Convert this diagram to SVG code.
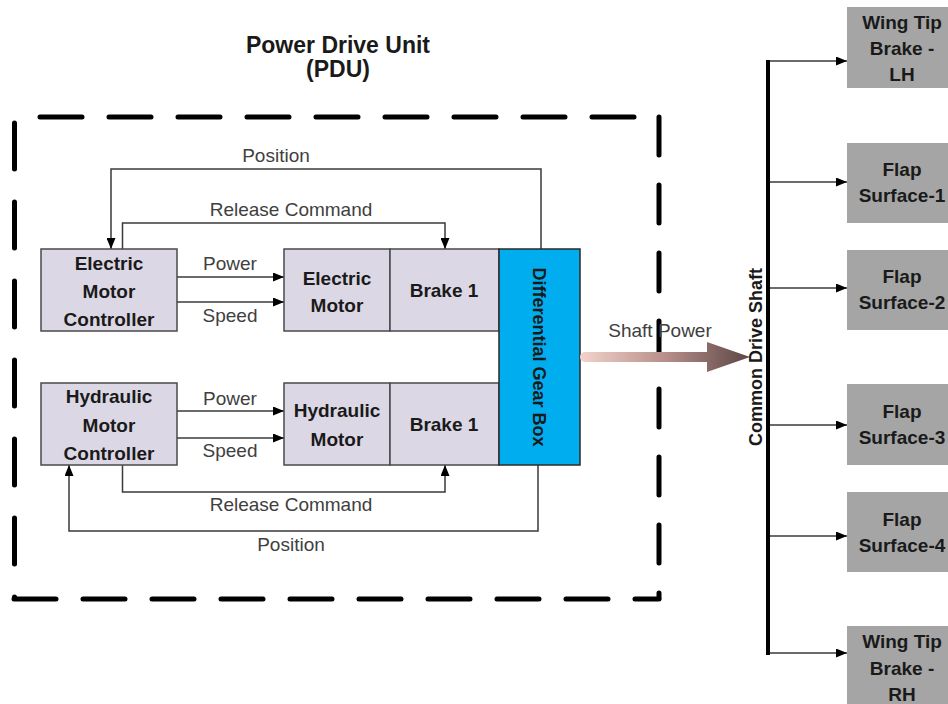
<svg xmlns="http://www.w3.org/2000/svg" width="948" height="704" viewBox="0 0 948 704">
<defs>
<style>
.t{font-family:"Liberation Sans",Arial,sans-serif;font-size:19px;fill:#404040;text-anchor:middle}
.b{font-family:"Liberation Sans",Arial,sans-serif;font-size:19px;font-weight:bold;fill:#1a1a1a;text-anchor:middle}
.box{fill:#dcd7e5;stroke:#4a4a4a;stroke-width:1.5}
.gray{fill:#a5a5a5;stroke:none}
.con{fill:none;stroke:#3a3a3a;stroke-width:1.5}
.dash{fill:none;stroke:#000;stroke-width:5;stroke-linecap:round}
</style>
<marker id="ah" viewBox="0 0 11 9" refX="11" refY="4.5" markerWidth="11" markerHeight="9" markerUnits="userSpaceOnUse" orient="auto">
<path d="M0,0 L11,4.5 L0,9 z" fill="#000"/>
</marker>
<linearGradient id="sg" gradientUnits="userSpaceOnUse" x1="580" y1="0" x2="750" y2="0">
<stop offset="0" stop-color="#f2d3cb"/>
<stop offset="0.5" stop-color="#b88f8a"/>
<stop offset="1" stop-color="#5c4646"/>
</linearGradient>
</defs>
<rect width="948" height="704" fill="#fff"/>

<g id="title">
<text class="b" x="338" y="53" style="font-size:23px">Power Drive Unit</text>
<text class="b" x="338" y="77" style="font-size:23px">(PDU)</text>
</g>

<g id="pdu-boundary">
<line class="dash" x1="40" y1="117" x2="659" y2="117" stroke-dasharray="42 27"/>
<line class="dash" x1="659" y1="117" x2="659" y2="598" stroke-dasharray="38 30"/>
<line class="dash" x1="14.5" y1="123" x2="14.5" y2="598" stroke-dasharray="46 33"/>
<line class="dash" x1="14" y1="599" x2="659" y2="599" stroke-dasharray="42 27"/>
</g>

<g id="connectors">
<path class="con" d="M541,249 V169 H111 V249" marker-end="url(#ah)"/>
<path class="con" d="M122.5,249 V223 H445 V249" marker-end="url(#ah)"/>
<path class="con" d="M177,277 H284" marker-end="url(#ah)"/>
<path class="con" d="M177,302 H284" marker-end="url(#ah)"/>
<path class="con" d="M177,411 H284" marker-end="url(#ah)"/>
<path class="con" d="M177,438 H284" marker-end="url(#ah)"/>
<path class="con" d="M122.5,465 V492 H445 V465" marker-end="url(#ah)"/>
<path class="con" d="M538,465 V531 H69 V465" marker-end="url(#ah)"/>
<path class="con" d="M768,61 H847" marker-end="url(#ah)"/>
<path class="con" d="M768,182 H847" marker-end="url(#ah)"/>
<path class="con" d="M768,288 H847" marker-end="url(#ah)"/>
<path class="con" d="M768,425 H847" marker-end="url(#ah)"/>
<path class="con" d="M768,536 H847" marker-end="url(#ah)"/>
<path class="con" d="M768,653 H847" marker-end="url(#ah)"/>
<text class="t" x="276" y="162">Position</text>
<text class="t" x="291" y="216">Release Command</text>
<text class="t" x="230" y="270">Power</text>
<text class="t" x="230" y="322">Speed</text>
<text class="t" x="230" y="405">Power</text>
<text class="t" x="230" y="457">Speed</text>
<text class="t" x="291" y="511">Release Command</text>
<text class="t" x="291" y="551">Position</text>
</g>

<g id="emc">
<rect class="box" x="41" y="249" width="136" height="82"/>
<text class="b" x="109" y="270">Electric</text>
<text class="b" x="109" y="298">Motor</text>
<text class="b" x="109" y="326">Controller</text>
</g>
<g id="electric-motor">
<rect class="box" x="284" y="249" width="106" height="82"/>
<text class="b" x="337" y="285">Electric</text>
<text class="b" x="337" y="312">Motor</text>
</g>
<g id="brake1-top">
<rect class="box" x="390" y="249" width="109" height="82"/>
<text class="b" x="444" y="297">Brake 1</text>
</g>
<g id="hmc">
<rect class="box" x="41" y="383" width="136" height="82"/>
<text class="b" x="109" y="403">Hydraulic</text>
<text class="b" x="109" y="432">Motor</text>
<text class="b" x="109" y="460">Controller</text>
</g>
<g id="hydraulic-motor">
<rect class="box" x="284" y="383" width="106" height="82"/>
<text class="b" x="337" y="417">Hydraulic</text>
<text class="b" x="337" y="446">Motor</text>
</g>
<g id="brake1-bottom">
<rect class="box" x="390" y="383" width="109" height="82"/>
<text class="b" x="444" y="431">Brake 1</text>
</g>
<g id="gearbox">
<rect x="499" y="249" width="81" height="216" fill="#00aeef" stroke="#2a2a2a" stroke-width="1.5"/>
<text class="b" transform="translate(539,357) rotate(90)" dominant-baseline="central" style="font-size:18px">Differential Gear Box</text>
</g>

<g id="shaft-power">
<path d="M585,352 H707 V342 L750,357 L707,372 V362 H585 A5,5 0 0 1 585,352 Z" fill="url(#sg)"/>
<text class="t" x="660" y="337">Shaft Power</text>
</g>

<g id="common-drive-shaft">
<line x1="768" y1="60" x2="768" y2="655" stroke="#000" stroke-width="4"/>
<text class="b" transform="translate(756,357) rotate(-90)" dominant-baseline="central" style="font-size:18px">Common Drive Shaft</text>
</g>

<g id="wtb-lh">
<rect class="gray" x="847" y="7" width="103" height="81"/>
<text class="b" x="902" y="29">Wing Tip</text>
<text class="b" x="902" y="55">Brake -</text>
<text class="b" x="902" y="81">LH</text>
</g>
<g id="flap1">
<rect class="gray" x="847" y="143" width="103" height="80"/>
<text class="b" x="902" y="176">Flap</text>
<text class="b" x="902" y="202">Surface-1</text>
</g>
<g id="flap2">
<rect class="gray" x="847" y="250" width="103" height="80"/>
<text class="b" x="902" y="283">Flap</text>
<text class="b" x="902" y="309">Surface-2</text>
</g>
<g id="flap3">
<rect class="gray" x="847" y="384" width="103" height="81"/>
<text class="b" x="902" y="418">Flap</text>
<text class="b" x="902" y="444">Surface-3</text>
</g>
<g id="flap4">
<rect class="gray" x="847" y="492" width="103" height="80"/>
<text class="b" x="902" y="526">Flap</text>
<text class="b" x="902" y="552">Surface-4</text>
</g>
<g id="wtb-rh">
<rect class="gray" x="847" y="626" width="103" height="80"/>
<text class="b" x="902" y="648">Wing Tip</text>
<text class="b" x="902" y="675">Brake -</text>
<text class="b" x="902" y="701">RH</text>
</g>
</svg>
